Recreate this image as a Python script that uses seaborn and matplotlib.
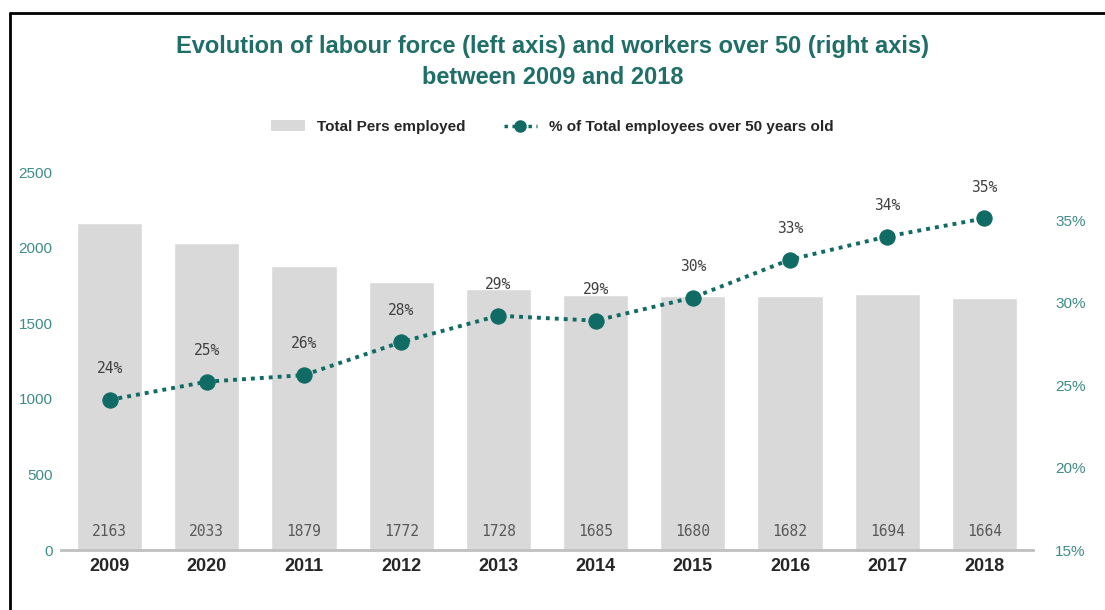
import numpy as np
import matplotlib
matplotlib.use("Agg")
import matplotlib.pyplot as plt
import seaborn as sns
from matplotlib.patches import Patch
from matplotlib.lines import Line2D

years = ['2009', '2020', '2011', '2012', '2013', '2014', '2015', '2016', '2017', '2018']
employed = [2163, 2033, 1879, 1772, 1728, 1685, 1680, 1682, 1694, 1664]
pct_over50 = [24.1, 25.2, 25.6, 27.6, 29.2, 28.9, 30.3, 32.6, 34.0, 35.1]

left_ticks = [0, 500, 1000, 1500, 2000, 2500]
right_ticks = [15, 20, 25, 30, 35]

teal = '#0f6b63'
teal_light = '#3d8c87'
bar_grey = '#d9d9d9'

sns.set_theme(style='white')
narrow = ['Liberation Sans Narrow', 'Liberation Sans', 'DejaVu Sans']
plt.rcParams['font.family'] = narrow

fig = plt.figure(figsize=(11.05, 6.10), dpi=100)
ax = fig.add_axes([61 / 1105, 1 - 550 / 610, 972 / 1105, 378 / 610])

sns.barplot(x=years, y=employed, color=bar_grey, width=0.67, saturation=1, ax=ax)
ax.set_ylim(0, 2500)
ax.set_xlim(-0.5, len(years) - 0.5)
ax.set_yticks(left_ticks)
ax.set_yticklabels([str(t) for t in left_ticks], color=teal_light, fontsize=11)
ax.tick_params(axis='y', length=0, pad=6)
ax.tick_params(axis='x', length=0, pad=6)
for lab in ax.get_xticklabels():
    lab.set_fontsize(13)
    lab.set_fontweight('bold')
    lab.set_color('#262626')
ax.set_xlabel('')
ax.set_ylabel('')
for s in ['top', 'right', 'left']:
    ax.spines[s].set_visible(False)
ax.spines['bottom'].set_color('#bfbfbf')
ax.spines['bottom'].set_linewidth(2)

# bar values at the foot of each bar
for i, v in enumerate(employed):
    ax.text(i, 120, str(v), ha='center', va='center', fontsize=10.5,
            family='DejaVu Sans Mono', color='#595959')

ax2 = ax.twinx()
xs = np.arange(len(years))
sns.lineplot(x=xs, y=pct_over50, ax=ax2, color=teal, linestyle=(0, (1, 1.3)),
             linewidth=2.8, marker='o', markersize=11, markeredgecolor=teal)
ax2.set_ylim(15, 15 + 378 / 16.5)
ax2.set_yticks(right_ticks)
ax2.set_yticklabels([f'{t}%' for t in right_ticks], color=teal_light, fontsize=11)
ax2.tick_params(axis='y', length=0, pad=16)
for s in ['top', 'right', 'left', 'bottom']:
    ax2.spines[s].set_visible(False)
ax2.set_xlim(-0.5, len(years) - 0.5)

for i, v in enumerate(pct_over50):
    ax2.annotate(f'{round(v)}%', (i, v), xytext=(0, 17), textcoords='offset points',
                 ha='center', va='bottom', fontsize=10.5,
                 family='DejaVu Sans Mono', color='#404040')

fig.text(0.5, 1 - 47 / 610, 'Evolution of labour force (left axis) and workers over 50 (right axis)',
         ha='center', va='center', fontsize=17, fontweight='bold', color='#1f6f68')
fig.text(0.5, 1 - 77 / 610, 'between 2009 and 2018',
         ha='center', va='center', fontsize=17, fontweight='bold', color='#1f6f68')

handles = [Patch(facecolor=bar_grey, edgecolor='none'),
           Line2D([], [], color=teal, linestyle=(0, (1, 1.3)), linewidth=2.5,
                  marker='o', markersize=8)]
fig.legend(handles, ['Total Pers employed', '% of Total employees over 50 years old'],
           loc='center', bbox_to_anchor=(0.5, 1 - 127 / 610), ncol=2, frameon=False,
           prop={'size': 11, 'weight': 'bold'}, handlelength=2.2, columnspacing=2.5)

# frame lines of the original screenshot
fig.add_artist(Line2D([10 / 1105, 1], [1 - 13 / 610, 1 - 13 / 610], color='black', linewidth=2))
fig.add_artist(Line2D([10 / 1105, 10 / 1105], [0, 1 - 13 / 610], color='black', linewidth=2))

fig.savefig('out.png', dpi=100)
